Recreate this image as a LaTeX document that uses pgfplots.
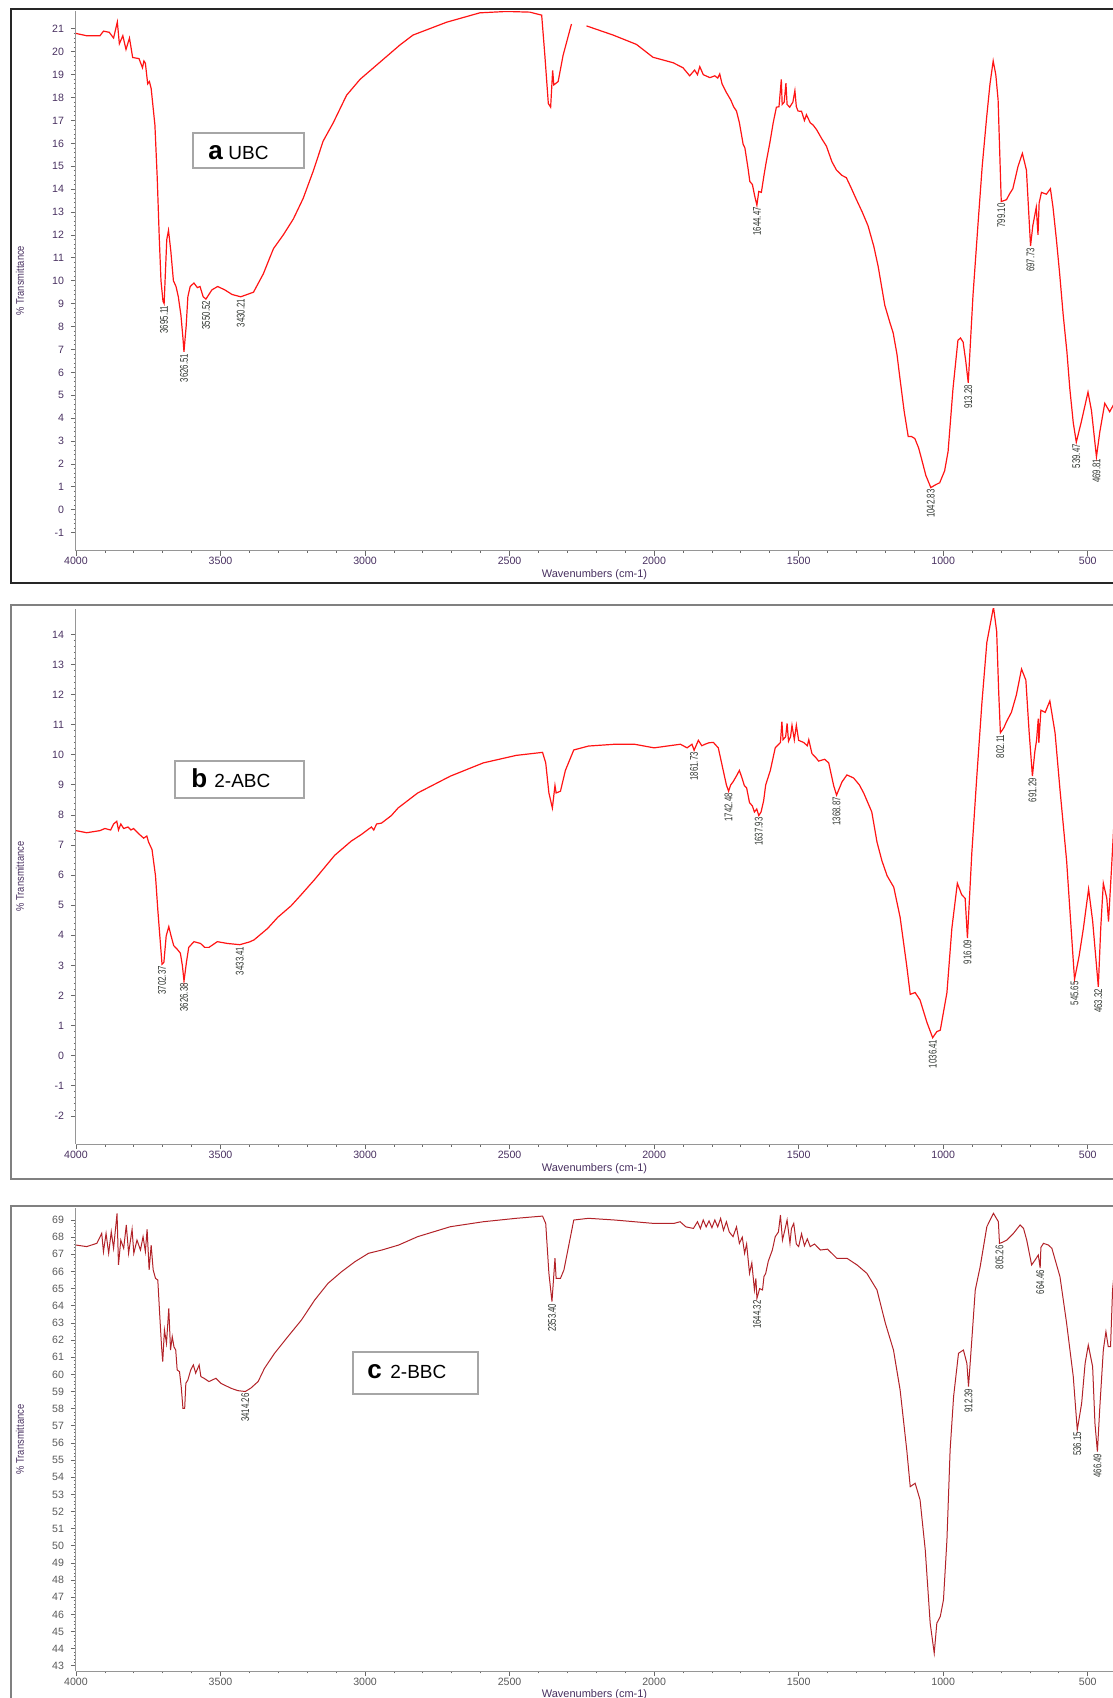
\documentclass[border=0pt]{standalone}
\usepackage{pgfplots}
\pgfplotsset{compat=1.18}
\usepackage{fontspec}
\setmainfont{Liberation Sans}
\newfontfamily\peakfont[FakeStretch=0.7]{Liberation Sans}
\newfontfamily\labfont[FakeStretch=0.85]{Liberation Sans}

\definecolor{tickcol}{RGB}{72,48,96}
\definecolor{axcol}{RGB}{150,150,150}
\definecolor{specred}{RGB}{255,20,20}
\definecolor{specdark}{RGB}{178,34,40}
\definecolor{peakcol}{RGB}{50,55,50}

\pgfplotsset{
  irpanel/.style={
    scale only axis,
    width=518.5pt,
    xmin=-4000, xmax=-412.5,
    axis x line=bottom, axis y line=left,
    axis line style={-, draw=axcol, line width=0.5pt},
    tick align=outside,
    major tick length=2.5pt,
    minor tick length=1.2pt,
    tick style={draw=axcol!70!black, line width=0.4pt},
    xtick={-4000,-3500,...,-500},
    xticklabels={4000,3500,3000,2500,2000,1500,1000,500},
    minor x tick num=4,
    minor y tick num=4,
    yticklabel={\pgfmathtruncatemacro\tk{round(\tick)}\tk},
    ticklabel style={font=\fontsize{5.3}{6}\selectfont, text=tickcol},
    xticklabel style={yshift=2.5pt},
    xlabel={Wavenumbers (cm-1)},
    xlabel style={font=\fontsize{5.5}{6}\selectfont, text=tickcol,
      at={(axis description cs:0.5,0)}, anchor=center, yshift=-12pt},
    ylabel={\% Transmittance},
    ylabel style={font=\labfont\fontsize{5.5}{6}\selectfont, text=tickcol,
      at={(axis description cs:-0.054,0.5)}, anchor=center},
    unbounded coords=jump,
    clip mode=individual,
  },
  peaklabels/.style={
    draw=none, mark=none, nodes near coords, point meta=explicit symbolic,
    nodes near coords style={font=\peakfont\fontsize{5.6}{6}\selectfont,
      text=peakcol, rotate=90, anchor=east, inner sep=0.8pt},
  },
}

\begin{document}
\begin{tikzpicture}
\useasboundingbox (0,0) rectangle (556.5pt,-849pt);
\clip (0,0) rectangle (556.5pt,-849pt);

% panel frames
\draw[black!85, line width=0.9pt] (5.5pt,-4.5pt) rectangle (620pt,-291.6pt);
\draw[gray, line width=1pt] (5.5pt,-302.3pt) rectangle (620pt,-589.3pt);
\draw[gray, line width=1pt] (5.5pt,-603pt) rectangle (620pt,-900pt);

% ---------------- (a) UBC ----------------
\begin{axis}[irpanel, at={(38pt,-275.25pt)}, anchor=south west,
  height=269.75pt, ymin=-1.78, ymax=21.78, ytick={-1,0,...,21}]
\addplot[specred, line width=0.6pt] table[x expr=-\thisrow{x}, y=y] {
x y
4000 20.8
3963 20.7
3917 20.7
3905 20.9
3885 20.85
3870 20.6
3857 21.3
3850 20.35
3838 20.7
3827 20.1
3815 20.6
3804 19.75
3782 19.7
3770 19.3
3765 19.6
3760 19.5
3752 18.6
3746 18.7
3740 18.4
3727 16.8
3719 14.5
3712 11.9
3706 10.0
3699 9.1
3695.11 9.0
3686 11.8
3680 12.2
3672 11.3
3663 10.0
3654 9.75
3646 9.3
3637 8.5
3630 7.5
3626.51 6.9
3619 8.0
3613 9.3
3605 9.75
3592 9.9
3580 9.7
3571 9.75
3560 9.3
3550.52 9.2
3530 9.6
3510 9.75
3485 9.6
3460 9.4
3430.21 9.3
3386 9.5
3352 10.3
3317 11.4
3283 12.0
3248 12.7
3214 13.6
3179 14.8
3145 16.1
3110 16.9
3064 18.1
3017 18.8
2971 19.3
2925 19.8
2879 20.3
2834 20.73
2718 21.29
2603 21.7
2510 21.76
2430 21.73
2389 21.6
2378 19.84
2366 17.74
2358 17.58
2351 19.19
2347 18.55
2332 18.7
2315 19.84
2286 21.21
2270 nan
2234 21.13
2142 20.73
2061 20.32
2004 19.76
1934 19.52
1900 19.3
1877 18.95
1860 19.2
1850 19.0
1842 19.35
1830 19.0
1807 18.87
1790 18.95
1780 18.85
1773 19.03
1765 18.6
1750 18.22
1735 17.9
1725 17.6
1715 17.41
1705 16.9
1692 15.96
1686 15.8
1675 14.9
1669 14.34
1660 14.2
1652 13.7
1644.47 13.3
1638 13.9
1629 13.86
1620 14.6
1612 15.2
1600 16.0
1588 16.9
1577 17.58
1568 17.6
1560 18.79
1557 17.7
1550 17.8
1544 18.63
1540 17.7
1531 17.58
1520 17.8
1513 18.3
1508 17.6
1502 17.41
1490 17.4
1480 17.0
1473 17.25
1460 16.9
1450 16.8
1438 16.6
1420 16.2
1404 15.88
1385 15.2
1369 14.83
1350 14.6
1335 14.5
1320 14.1
1300 13.54
1280 13.0
1260 12.4
1240 11.5
1225 10.63
1202 8.93
1185 8.2
1173 7.72
1160 6.8
1150 5.78
1135 4.3
1121 3.2
1110 3.2
1098 3.11
1085 2.7
1075 2.23
1060 1.5
1042.83 0.97
1025 1.1
1012 1.18
995 1.7
983 2.55
966 5.3
949 7.4
940 7.5
931 7.32
922 6.5
913.28 5.54
897 9.34
879 12.57
865 15.0
850 17.09
838 18.6
827 19.6
818 19.0
810 17.9
799.10 13.46
790 13.5
781 13.54
770 13.8
759 14.02
741 15.0
726 15.56
712 14.83
705 13.2
697.73 11.52
690 12.4
678 13.21
672 12.0
668 13.4
660 13.86
643 13.78
629 14.02
620 13.2
608 11.76
597 10.3
585 8.53
572 6.9
562 5.3
550 3.8
539.47 2.95
522 3.85
499 5.14
487 4.33
469.81 2.31
458 3.41
441 4.65
424 4.28
410 4.6
};
\addplot[peaklabels] table[x expr=-\thisrow{x}, y=y, meta=lab] {
x y lab
3695.11 9.0 3695.11
3626.51 6.9 3626.51
3550.52 9.2 3550.52
3430.21 9.3 3430.21
1644.47 13.3 1644.47
1042.83 0.97 1042.83
913.28 5.54 913.28
799.10 13.46 799.10
697.73 11.52 697.73
539.47 2.95 539.47
469.81 2.31 469.81
};
\end{axis}

% ---------------- (b) 2-ABC ----------------
\begin{axis}[irpanel, at={(38pt,-572.1pt)}, anchor=south west,
  height=267.7pt, ymin=-2.94, ymax=14.85, ytick={-2,-1,...,14}]
\addplot[specred, line width=0.6pt] table[x expr=-\thisrow{x}, y=y] {
x y
4000 7.48
3963 7.41
3917 7.48
3900 7.55
3880 7.5
3870 7.7
3859 7.79
3853 7.5
3845 7.7
3835 7.55
3820 7.6
3810 7.5
3801 7.55
3780 7.35
3766 7.23
3755 7.3
3749 7.1
3737 6.85
3725 5.98
3717 4.85
3710 3.98
3702.37 3.04
3696 3.1
3688 3.98
3679 4.29
3671 3.98
3662 3.66
3650 3.54
3639 3.41
3632 3.0
3626.38 2.48
3618 3.1
3610 3.6
3592 3.79
3569 3.73
3555 3.6
3540 3.6
3511 3.79
3476 3.73
3433.41 3.69
3400 3.78
3384 3.85
3337 4.23
3302 4.6
3256 4.98
3221 5.35
3175 5.85
3105 6.66
3048 7.13
3013 7.35
2978 7.6
2970 7.5
2960 7.7
2943 7.73
2909 7.98
2886 8.23
2818 8.73
2705 9.29
2591 9.73
2477 9.98
2386 10.08
2375 9.73
2364 8.73
2352 8.23
2343 8.98
2339 8.73
2324 8.79
2307 9.48
2278 10.16
2227 10.29
2136 10.35
2068 10.35
2000 10.23
1955 10.29
1909 10.35
1886 10.23
1869 10.35
1861.73 10.15
1855 10.3
1847 10.48
1835 10.3
1824 10.35
1810 10.4
1795 10.41
1778 10.23
1761 9.48
1750 9.0
1742.48 8.79
1735 9.0
1727 9.1
1715 9.3
1705 9.48
1695 9.2
1688 8.98
1680 8.9
1670 8.41
1660 8.3
1653 8.1
1645 8.2
1637.93 7.98
1630 8.1
1621 8.48
1614 9.0
1598 9.48
1581 10.23
1563 10.41
1558 11.1
1554 10.5
1545 10.6
1540 11.04
1535 10.45
1528 10.6
1523 10.98
1515 10.5
1508 10.98
1500 10.48
1483 10.41
1470 10.3
1465 10.5
1454 10.04
1440 9.9
1431 9.79
1410 9.85
1396 9.73
1379 8.98
1368.87 8.66
1350 9.1
1333 9.33
1310 9.23
1290 9.0
1275 8.73
1247 8.1
1229 7.1
1212 6.48
1194 5.98
1171 5.6
1149 4.6
1126 2.98
1114 2.04
1097 2.1
1080 1.85
1056 1.1
1036.41 0.6
1022 0.8
1010 0.85
987 2.1
970 4.23
951 5.73
936 5.35
924 5.23
916.09 3.91
901 6.73
884 9.23
866 11.73
849 13.73
826 14.91
815 14.1
808 12.1
802.11 10.73
790 10.9
781 11.1
764 11.41
747 11.98
729 12.85
714 12.48
703 10.8
691.29 9.29
683 10.1
677 10.48
671 11.2
669 10.4
662 11.48
647 11.41
631 11.79
613 10.73
596 8.85
573 6.48
560 4.6
545.65 2.54
530 3.3
515 4.23
497 5.54
483 4.48
463.32 2.29
455 4.23
446 5.73
434 5.23
428 4.46
418 6.17
410 7.6
};
\addplot[peaklabels] table[x expr=-\thisrow{x}, y=y, meta=lab] {
x y lab
3702.37 3.04 3702.37
3626.38 2.48 3626.38
3433.41 3.69 3433.41
1861.73 10.15 1861.73
1742.48 8.79 1742.48
1637.93 7.98 1637.93
1368.87 8.66 1368.87
1036.41 0.6 1036.41
916.09 3.91 916.09
802.11 10.73 802.11
691.29 9.29 691.29
545.65 2.54 545.65
463.32 2.29 463.32
};
\end{axis}

% ---------------- (c) 2-BBC ----------------
\begin{axis}[irpanel, at={(38pt,-835.5pt)}, anchor=south west,
  height=231.5pt, ymin=42.7, ymax=69.7, ytick={43,44,...,69},
  ticklabel style={text=black!65}]
\addplot[specdark, line width=0.5pt] table[x expr=-\thisrow{x}, y=y] {
x y
4000 67.54
3963 67.45
3928 67.64
3911 68.22
3905 67.15
3896 68.22
3887 67.06
3878 68.32
3870 67.35
3858 69.39
3853 66.38
3845 67.83
3835 67.35
3826 68.71
3818 67.06
3806 68.46
3800 67.06
3789 67.83
3777 67.25
3768 68.03
3760 67.15
3754 68.46
3747 66.09
3740 67.54
3733 66.09
3725 65.6
3717 65.5
3710 63.36
3704 61.62
3700 60.74
3694 62.59
3687 61.81
3679 63.85
3673 61.42
3667 62.2
3661 61.6
3655 61.42
3650 60.26
3642 60.16
3636 59.28
3630 58.02
3624 58.02
3620 59.48
3613 59.67
3603 60.26
3594 60.55
3586 60.07
3574 60.55
3568 59.87
3557 59.77
3540 59.58
3516 59.77
3499 59.48
3464 59.19
3440 59.05
3414.26 59.0
3395 59.2
3370 59.58
3348 60.35
3313 61.23
3267 62.2
3220 63.17
3174 64.34
3128 65.31
3081 65.99
3035 66.57
2988 67.06
2942 67.25
2884 67.54
2818 68.03
2705 68.61
2591 68.9
2477 69.1
2386 69.23
2375 68.8
2364 65.89
2353.40 64.24
2343 66.77
2339 65.6
2324 65.6
2312 66.09
2278 69.0
2227 69.1
2136 69.0
2000 68.8
1932 68.8
1910 68.9
1890 68.6
1864 68.51
1850 68.9
1840 68.5
1830 69.0
1820 68.6
1810 68.95
1800 68.55
1790 69.0
1780 68.6
1770 69.1
1760 68.4
1750 68.9
1740 68.3
1727 68.03
1715 68.6
1705 67.64
1695 68.0
1687 67.06
1680 67.6
1670 65.89
1662 66.5
1653 64.92
1648 65.6
1644.32 64.43
1635 65.0
1625 64.92
1620 65.7
1614 65.89
1605 66.6
1591 67.25
1581 68.03
1570 68.3
1563 69.29
1556 67.83
1548 68.4
1540 69.0
1530 67.64
1525 68.5
1517 68.8
1508 67.6
1500 67.45
1490 68.2
1480 67.5
1470 67.9
1460 67.45
1445 67.6
1425 67.25
1400 67.3
1368 66.77
1333 66.77
1298 66.38
1264 65.89
1229 64.92
1200 62.98
1172 61.42
1149 59.09
1126 55.59
1114 53.45
1097 53.65
1080 52.68
1062 49.76
1045 45.49
1031 43.74
1022 45.49
1010 45.88
999 46.85
987 50.35
976 55.59
964 58.7
947 61.23
930 61.42
918 60.64
912.39 59.28
901 62.0
889 64.92
872 66.28
849 68.61
826 69.39
809 68.9
805.26 67.64
795 67.7
780 67.83
757 68.22
734 68.71
722 68.51
711 67.83
694 66.38
682 66.67
671 66.96
664.46 66.2
662 67.4
653 67.64
636 67.54
624 67.35
596 65.7
573 62.98
550 59.87
536.15 56.76
521 58.31
509 60.64
498 61.71
483 60.45
475 57.15
466.49 55.49
458 58.12
446 61.42
437 62.49
429 61.62
421 61.62
414 64.92
408 66.0
};
\addplot[peaklabels] table[x expr=-\thisrow{x}, y=y, meta=lab] {
x y lab
3414.26 59.0 3414.26
2353.40 64.24 2353.40
1644.32 64.43 1644.32
912.39 59.28 912.39
805.26 67.64 805.26
664.46 66.2 664.46
536.15 56.76 536.15
466.49 55.49 466.49
};
\end{axis}

% sample captions
\draw[gray!70, line width=0.6pt, fill=white] (96.5pt,-66.5pt) rectangle (152pt,-84pt);
\node[anchor=base west, inner sep=0pt] at (104pt,-79.5pt) {\fontsize{13}{13}\selectfont\bfseries a};
\node[anchor=base west, inner sep=0pt] at (114pt,-79.5pt) {\fontsize{9.5}{10}\selectfont UBC};

\draw[gray!70, line width=0.6pt, fill=white] (87.5pt,-380.5pt) rectangle (152pt,-399pt);
\node[anchor=base west, inner sep=0pt] at (95.5pt,-393.75pt) {\fontsize{13}{13}\selectfont\bfseries b};
\node[anchor=base west, inner sep=0pt] at (107pt,-393.75pt) {\fontsize{9.5}{10}\selectfont 2-ABC};

\draw[gray!70, line width=0.6pt, fill=white] (176.5pt,-676pt) rectangle (239pt,-697pt);
\node[anchor=base west, inner sep=0pt] at (183.5pt,-689pt) {\fontsize{13}{13}\selectfont\bfseries c};
\node[anchor=base west, inner sep=0pt] at (195pt,-689pt) {\fontsize{9.5}{10}\selectfont 2-BBC};
\end{tikzpicture}
\end{document}
